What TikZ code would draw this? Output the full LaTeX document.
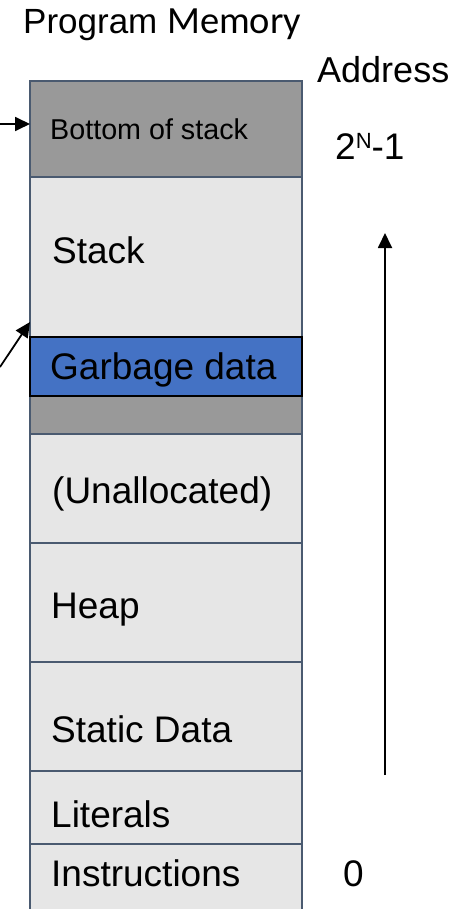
\documentclass[tikz,border=0pt]{standalone}
\usepackage{fontspec}
\setmainfont{Liberation Sans}
\newfontfamily\calib{Carlito}
\usetikzlibrary{arrows.meta}
\definecolor{bandgrey}{HTML}{999999}
\definecolor{bandlight}{HTML}{E6E6E6}
\definecolor{bandblue}{HTML}{4472C4}
\definecolor{bandedge}{HTML}{4A5A70}
\tikzset{
  band/.style={draw=bandedge, line width=1.6pt, minimum width=272pt, inner sep=0pt,
               anchor=north west, outer sep=0pt},
  lbl/.style={anchor=base west, inner sep=0pt, font=\fontsize{37}{40}\selectfont},
  ptr/.style={line width=1.8pt, -{Triangle[length=15pt,width=14pt]}}
}
\begin{document}
\begin{tikzpicture}[x=1pt,y=-1pt]
\useasboundingbox (0,0) rectangle (457,909);
\begin{scope}
\clip (0,0) rectangle (457,909);
% memory bands, top to bottom
\node[band, fill=bandgrey,  minimum height=96pt]  (bos)   at (30,81)  {};
\node[band, fill=bandlight, minimum height=160pt] (stk)   at (30,177) {};
\node[band, fill=bandgrey,  minimum height=38pt]  (gap)   at (30,396) {};
\node[band, fill=bandlight, minimum height=109pt] (unal)  at (30,434) {};
\node[band, fill=bandlight, minimum height=119pt] (heap)  at (30,543) {};
\node[band, fill=bandlight, minimum height=109pt] (stat)  at (30,662) {};
\node[band, fill=bandlight, minimum height=73pt]  (lit)   at (30,771) {};
\node[band, fill=bandlight, minimum height=90pt]  (instr) at (30,844) {};
\node[band, fill=bandblue, draw=black, minimum height=59pt] (garb) at (30,337) {};
\end{scope}

% band labels
\node[lbl, font=\fontsize{28.7}{32}\selectfont] (tbos) at (50,140) {Bottom of stack};
\node[lbl] (tstk)   at (52,263) {Stack};
\node[lbl] (tgarb)  at (50,379) {Garbage data};
\node[lbl] (tunal)  at (52,503) {(Unallocated)};
\node[lbl] (theap)  at (51,618) {Heap};
\node[lbl] (tstat)  at (51,742) {Static Data};
\node[lbl] (tlit)   at (51,827) {Literals};
\node[lbl] (tinstr) at (51,886) {Instructions};

% headings and addresses
\node[lbl, font=\fontsize{35}{38}\selectfont] (title) at (23,34) {Program {\calib\fontsize{38.5}{40}\selectfont Memory}};
\node[lbl, font=\fontsize{36}{40}\selectfont] (addr) at (317,83) {Address};
\node[lbl] (top)  at (335,160) {2\raisebox{11pt}{\fontsize{22}{24}\selectfont N}-1};
\node[lbl] (zero) at (343,886) {0};

% address direction
\coordinate (up0) at (385,775);
\coordinate (up1) at (385,233);
\draw[ptr] (up0) -- (up1);

% pointers into the stack
\coordinate (p1) at (0,124);
\coordinate (p2) at (0,367);
\draw[ptr] (p1) -- (bos.west |- p1);
\draw[ptr] (p2) -- ([yshift=15pt]stk.south west);
\end{tikzpicture}
\end{document}
